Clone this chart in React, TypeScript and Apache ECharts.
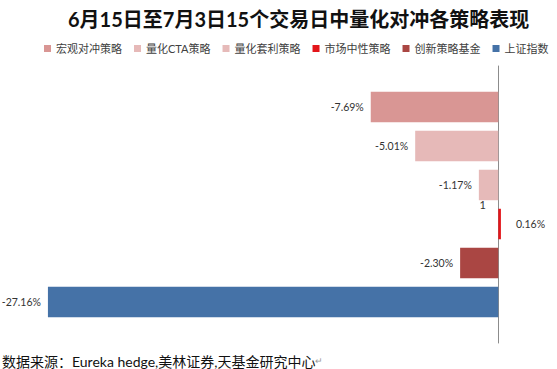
import React, { useEffect, useRef } from "react";
import * as echarts from "echarts";

const TITLE = "6月15日至7月3日15个交易日中量化对冲各策略表现";
const FOOTER = "数据来源：Eureka hedge,美林证券,天基金研究中心";
const CATEGORIES = ["1"];
const SERIES_NAMES = ["宏观对冲策略", "量化CTA策略", "量化套利策略", "市场中性策略", "创新策略基金", "上证指数"];
const SERIES_VALUES = [-7.69, -5.01, -1.17, 0.16, -2.3, -27.16];
const SERIES_COLORS = ["#D99694", "#E6B9B8", "#E6BAB9", "#E3151A", "#AA4643", "#4572A7"];

export default function App() {
  const ref = useRef<HTMLDivElement>(null);
  useEffect(() => {
    document.body.style.margin = "0";
    const chart = echarts.init(ref.current!, undefined, { renderer: "svg" });
    const font = "Lato, 'Noto Sans CJK SC', sans-serif";
    chart.setOption({
      animation: false,
      backgroundColor: "#ffffff",
      title: {
        text: TITLE,
        left: 63,
        top: 4,
        textStyle: { fontSize: 20, fontWeight: "bold", color: "#111111", fontFamily: font },
      },
      legend: {
        data: SERIES_NAMES,
        left: 39,
        top: 38,
        width: 518,
        icon: "rect",
        itemWidth: 7,
        itemHeight: 7,
        itemGap: 12,
        textStyle: { fontSize: 11, color: "#404040", fontFamily: font },
      },
      grid: { left: 34, right: 9, top: 66, height: 277, containLabel: false },
      xAxis: {
        type: "value",
        min: -28,
        max: 3,
        show: false,
      },
      yAxis: {
        type: "category",
        data: CATEGORIES,
        inverse: true,
        axisLine: { show: true, onZero: true, lineStyle: { color: "#8c8c8c", width: 1 } },
        axisTick: { show: false },
        axisLabel: { fontSize: 11, color: "#333333", fontFamily: font, margin: -452 },
      },
      series: SERIES_NAMES.map((name, i) => ({
        name,
        type: "bar",
        data: [SERIES_VALUES[i]],
        barWidth: 30.5,
        barGap: "28%",
        itemStyle: { color: SERIES_COLORS[i] },
        label: {
          show: true,
          position: SERIES_VALUES[i] < 0 ? "left" : "right",
          distance: SERIES_VALUES[i] < 0 ? 7 : 15,
          fontSize: 10.5,
          color: "#333333",
          fontFamily: font,
          formatter: (p: any) => Number(p.value).toFixed(2) + "%",
        },
      })),
      graphic: [
        {
          type: "text",
          left: 2,
          top: 354,
          style: {
            text: FOOTER + "{a|↵}",
            fontSize: 14,
            fill: "#111111",
            fontFamily: font,
            rich: { a: { fontSize: 9, fill: "#999999" } },
          },
        },
      ],
    });
    return () => chart.dispose();
  }, []);
  return <div ref={ref} style={{ position: "fixed", left: 0, top: 0, width: 557, height: 369 }} />;
}
